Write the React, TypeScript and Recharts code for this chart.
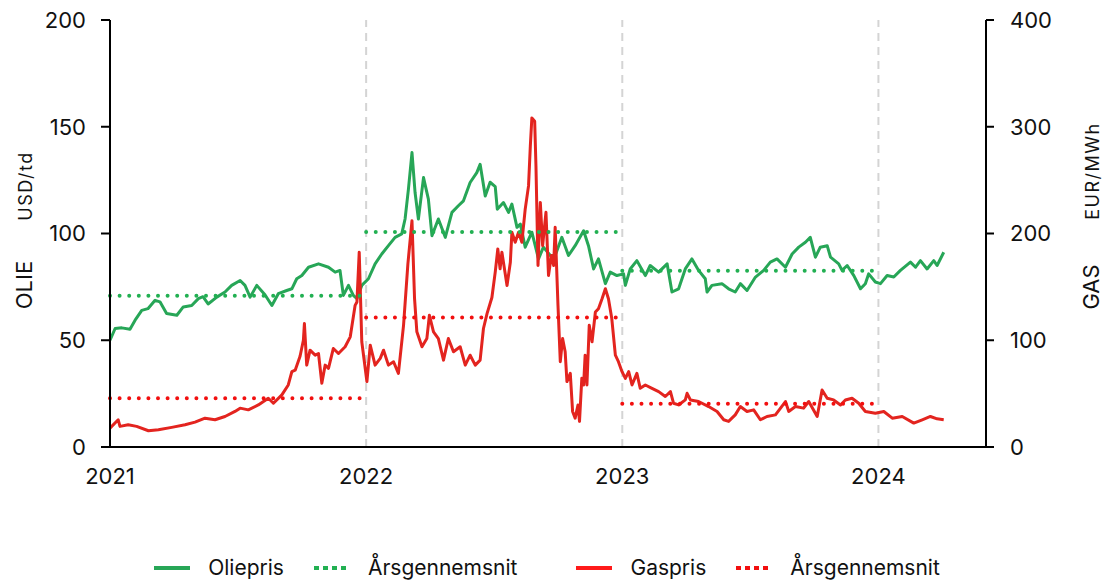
import React from "react";
import {
  LineChart,
  Line,
  XAxis,
  YAxis,
  ReferenceLine,
  Legend,
} from "recharts";

// tid i decimalår
const oilTid = [
  2021.0, 2021.02, 2021.046, 2021.078, 2021.098, 2021.124, 2021.148, 2021.176, 2021.195, 2021.221,
  2021.261, 2021.286, 2021.319, 2021.345, 2021.363, 2021.383, 2021.417, 2021.449, 2021.475, 2021.508,
  2021.527, 2021.547, 2021.573, 2021.605, 2021.632, 2021.657, 2021.69, 2021.71, 2021.729, 2021.749,
  2021.775, 2021.814, 2021.853, 2021.879, 2021.898, 2021.911, 2021.931, 2021.95, 2021.964, 2021.983,
  2022.009, 2022.035, 2022.061, 2022.087, 2022.113, 2022.139, 2022.152, 2022.165, 2022.179, 2022.191,
  2022.204, 2022.224, 2022.243, 2022.257, 2022.282, 2022.309, 2022.335, 2022.36, 2022.38, 2022.406,
  2022.432, 2022.445, 2022.465, 2022.484, 2022.504, 2022.512, 2022.536, 2022.556, 2022.569, 2022.589,
  2022.602, 2022.621, 2022.647, 2022.673, 2022.692, 2022.719, 2022.738, 2022.764, 2022.79, 2022.816,
  2022.849, 2022.868, 2022.888, 2022.907, 2022.934, 2022.953, 2022.979, 2023.005, 2023.012, 2023.031,
  2023.057, 2023.09, 2023.109, 2023.142, 2023.175, 2023.194, 2023.22, 2023.246, 2023.272, 2023.298,
  2023.324, 2023.331, 2023.35, 2023.389, 2023.415, 2023.441, 2023.461, 2023.487, 2023.52, 2023.552,
  2023.578, 2023.604, 2023.637, 2023.663, 2023.689, 2023.715, 2023.734, 2023.754, 2023.773, 2023.8,
  2023.813, 2023.845, 2023.858, 2023.878, 2023.904, 2023.93, 2023.949, 2023.962, 2023.988, 2024.008,
  2024.034, 2024.06, 2024.086, 2024.125, 2024.145, 2024.164, 2024.19, 2024.216, 2024.229, 2024.255,
];
const oilPris = [
  50.0, 55.5, 55.8, 55.2, 59.4, 64.0, 64.8, 68.7, 68.0, 62.5,
  61.7, 65.6, 66.3, 69.5, 70.4, 67.0, 70.2, 72.6, 75.7, 78.0,
  75.7, 70.2, 75.7, 71.3, 66.3, 71.8, 73.3, 74.1, 78.8, 80.3,
  84.2, 85.8, 84.2, 81.9, 82.7, 71.0, 75.7, 71.0, 69.5, 75.7,
  78.8, 85.8, 90.4, 94.3, 98.2, 99.8, 106.8, 120.7, 137.9, 119.2,
  106.8, 126.2, 116.1, 99.0, 106.8, 98.2, 109.9, 113.0, 115.3, 123.9,
  128.5, 132.4, 117.6, 124.0, 122.0, 111.4, 114.5, 109.9, 113.8, 102.9,
  104.4, 93.6, 100.6, 88.1, 93.6, 89.7, 89.7, 98.2, 89.7, 94.3,
  101.3, 94.3, 83.4, 88.1, 76.5, 81.9, 80.3, 81.1, 75.7, 83.4,
  87.3, 80.3, 85.0, 81.9, 85.8, 72.6, 74.1, 83.4, 88.1, 82.7,
  78.8, 72.6, 75.7, 76.5, 74.1, 72.6, 76.5, 73.3, 79.6, 82.7,
  86.6, 88.1, 84.2, 90.4, 93.6, 95.9, 98.2, 88.9, 93.6, 94.3,
  88.9, 85.8, 82.7, 85.0, 80.3, 74.1, 76.5, 81.1, 77.3, 76.5,
  80.3, 79.6, 82.7, 86.6, 84.2, 87.3, 83.4, 87.3, 85.0, 91.2,
];

const gasTid = [
  2021.0, 2021.032, 2021.039, 2021.071, 2021.104, 2021.15, 2021.189, 2021.241, 2021.293, 2021.332,
  2021.371, 2021.41, 2021.449, 2021.488, 2021.508, 2021.54, 2021.579, 2021.618, 2021.638, 2021.671,
  2021.696, 2021.71, 2021.723, 2021.742, 2021.755, 2021.759, 2021.768, 2021.781, 2021.801, 2021.814,
  2021.827, 2021.84, 2021.853, 2021.872, 2021.892, 2021.918, 2021.938, 2021.957, 2021.964, 2021.973,
  2021.983, 2022.003, 2022.016, 2022.035, 2022.055, 2022.068, 2022.087, 2022.107, 2022.126, 2022.146,
  2022.163, 2022.179, 2022.189, 2022.198, 2022.218, 2022.237, 2022.247, 2022.263, 2022.282, 2022.302,
  2022.321, 2022.341, 2022.367, 2022.387, 2022.406, 2022.426, 2022.445, 2022.458, 2022.472, 2022.491,
  2022.504, 2022.514, 2022.523, 2022.53, 2022.55, 2022.563, 2022.569, 2022.582, 2022.595, 2022.608,
  2022.621, 2022.634, 2022.641, 2022.647, 2022.658, 2022.663, 2022.671, 2022.68, 2022.689, 2022.702,
  2022.712, 2022.723, 2022.732, 2022.738, 2022.749, 2022.758, 2022.767, 2022.777, 2022.784, 2022.797,
  2022.806, 2022.816, 2022.827, 2022.833, 2022.842, 2022.849, 2022.855, 2022.862, 2022.871, 2022.882,
  2022.895, 2022.907, 2022.921, 2022.934, 2022.946, 2022.959, 2022.973, 2022.985, 2022.999, 2023.012,
  2023.025, 2023.038, 2023.057, 2023.07, 2023.09, 2023.116, 2023.142, 2023.168, 2023.188, 2023.2,
  2023.22, 2023.246, 2023.253, 2023.266, 2023.298, 2023.337, 2023.37, 2023.396, 2023.415, 2023.441,
  2023.461, 2023.487, 2023.513, 2023.539, 2023.565, 2023.598, 2023.637, 2023.65, 2023.676, 2023.708,
  2023.728, 2023.761, 2023.78, 2023.8, 2023.825, 2023.852, 2023.871, 2023.897, 2023.923, 2023.949,
  2023.988, 2024.021, 2024.054, 2024.093, 2024.138, 2024.171, 2024.203, 2024.229, 2024.255,
];
const gasPris = [
  17.7, 25.5, 19.3, 20.8, 19.3, 15.2, 16.1, 18.4, 20.8, 23.3,
  27.0, 25.5, 28.6, 33.3, 36.4, 34.8, 39.4, 45.7, 41.0, 48.8,
  58.1, 70.6, 72.0, 85.0, 100.0, 115.6, 76.7, 90.7, 86.0, 87.6,
  59.7, 76.7, 73.7, 92.3, 87.6, 93.9, 103.2, 132.7, 135.8, 182.5,
  98.6, 61.3, 95.4, 76.7, 83.0, 90.7, 76.7, 79.9, 69.0, 114.0,
  171.6, 212.0, 138.9, 107.9, 93.9, 101.6, 123.4, 107.9, 101.6, 81.4,
  101.6, 89.2, 93.9, 76.7, 86.0, 76.7, 81.4, 111.0, 125.0, 140.0,
  163.8, 185.5, 166.9, 182.5, 151.3, 173.1, 201.1, 191.8, 201.1, 191.8,
  222.8, 244.6, 281.9, 308.3, 305.2, 263.2, 170.0, 229.1, 188.6, 219.8,
  160.7, 179.3, 170.0, 205.8, 132.7, 79.9, 101.6, 89.2, 61.3, 69.0,
  33.3, 27.0, 39.4, 24.0, 64.3, 58.1, 86.0, 58.1, 114.0, 98.6,
  126.5, 129.6, 138.9, 148.3, 138.9, 120.3, 86.0, 79.9, 70.6, 64.3,
  70.6, 58.1, 69.0, 55.0, 58.1, 55.0, 51.9, 47.3, 51.9, 41.0,
  39.4, 44.1, 50.3, 44.1, 42.6, 37.9, 33.3, 25.5, 24.0, 30.1,
  37.9, 33.3, 34.8, 25.5, 28.6, 30.1, 42.6, 33.3, 37.9, 36.4,
  42.6, 28.6, 53.4, 45.7, 44.1, 39.4, 44.1, 45.7, 41.0, 33.3,
  31.7, 33.3, 27.0, 28.6, 22.4, 25.5, 28.6, 26.4, 25.5,
];

const avgYears = [2021, 2022, 2023];
const oilAvg = [70.9, 100.7, 82.5];
const gasAvg = [45.7, 121.2, 40.4];

const xTicks = [2021, 2022, 2023, 2024];
const oilTicks = [0, 50, 100, 150, 200];
const gasTicks = [0, 100, 200, 300, 400];

const GREEN = "#27a657";
const GREEN_AVG = "#22b052";
const RED = "#e3241f";
const RED_AVG = "#f20f0f";
const FONT = "Inter, 'DejaVu Sans', sans-serif";

const oilData = oilTid.map((t, i) => ({ t, v: oilPris[i] }));
const gasData = gasTid.map((t, i) => ({ t, v: gasPris[i] }));
const avgSegment = (vals: number[]) =>
  avgYears.map((yr, i) => [
    { t: yr, v: vals[i] },
    { t: yr + 1, v: vals[i] },
  ]);

const legendItems = [
  { label: "Oliepris", color: GREEN, dotted: false, gap: 0 },
  { label: "Årsgennemsnit", color: GREEN_AVG, dotted: true, gap: 30 },
  { label: "Gaspris", color: "#ff1a1a", dotted: false, gap: 59 },
  { label: "Årsgennemsnit", color: RED_AVG, dotted: true, gap: 30 },
];

function renderLegend() {
  return (
    <div
      style={{
        display: "flex",
        justifyContent: "center",
        alignItems: "center",
        fontFamily: FONT,
        fontSize: 21,
        color: "#111",
        paddingRight: 10,
      }}
    >
      {legendItems.map((it, i) => (
        <div key={i} style={{ display: "flex", alignItems: "center", marginLeft: it.gap }}>
          <svg width={36} height={10} style={{ marginRight: 18 }}>
            <line
              x1={0}
              x2={36}
              y1={5}
              y2={5}
              stroke={it.color}
              strokeWidth={4}
              strokeDasharray={it.dotted ? "5 4" : undefined}
            />
          </svg>
          <span>{it.label}</span>
        </div>
      ))}
    </div>
  );
}

const axisLineStyle = { stroke: "#000", strokeWidth: 2 };

export default function App() {
  return (
    <div style={{ position: "absolute", left: 0, top: 0, background: "#fff" }}>
      <LineChart
        width={1104}
        height={583}
        margin={{ top: 20, right: 0, left: 0, bottom: 0 }}
      >
        <XAxis
          dataKey="t"
          type="number"
          domain={[2021, 2024.42]}
          ticks={xTicks}
          tickFormatter={(v: number) => String(Math.round(v))}
          axisLine={axisLineStyle}
          tickLine={false}
          tickSize={0}
          tickMargin={21}
          height={106}
          tick={{ fontSize: 22, fill: "#111", fontFamily: FONT }}
          allowDuplicatedCategory={false}
        />
        <YAxis
          yAxisId="left"
          orientation="left"
          width={110}
          domain={[0, 200]}
          ticks={oilTicks}
          axisLine={axisLineStyle}
          tickLine={axisLineStyle}
          tickSize={9}
          tickMargin={15}
          tick={{ fontSize: 22, fill: "#111", fontFamily: FONT }}
          label={{
            content: () => (
              <g fontFamily={FONT} fill="#111">
                <text x={32} y={285} fontSize={22} textAnchor="middle" transform="rotate(-90 32 285)">
                  OLIE
                </text>
                <text
                  x={32}
                  y={186}
                  fontSize={18}
                  letterSpacing={1.5}
                  textAnchor="middle"
                  transform="rotate(-90 32 186)"
                >
                  USD/td
                </text>
              </g>
            ),
          }}
        />
        <YAxis
          yAxisId="right"
          orientation="right"
          width={118}
          domain={[0, 400]}
          ticks={gasTicks}
          axisLine={axisLineStyle}
          tickLine={axisLineStyle}
          tickSize={8}
          tickMargin={16}
          tick={{ fontSize: 22, fill: "#111", fontFamily: FONT }}
          label={{
            content: () => (
              <g fontFamily={FONT} fill="#111">
                <text x={1099} y={287} fontSize={22} textAnchor="middle" transform="rotate(-90 1099 287)">
                  GAS
                </text>
                <text
                  x={1099}
                  y={171}
                  fontSize={18}
                  letterSpacing={1.5}
                  textAnchor="middle"
                  transform="rotate(-90 1099 171)"
                >
                  EUR/MWh
                </text>
              </g>
            ),
          }}
        />
        {xTicks.slice(1).map((yr) => (
          <ReferenceLine
            key={yr}
            x={yr}
            yAxisId="left"
            stroke="#d4d4d4"
            strokeWidth={2}
            strokeDasharray="8 6"
          />
        ))}
        <Legend
          content={renderLegend}
          wrapperStyle={{ position: "absolute", top: 555, left: 0, width: 1104, height: 30 }}
        />
        <Line
          data={oilData}
          dataKey="v"
          yAxisId="left"
          type="linear"
          stroke={GREEN}
          strokeWidth={3}
          dot={false}
          strokeLinejoin="round"
          isAnimationActive={false}
          legendType="none"
        />
        <Line
          data={gasData}
          dataKey="v"
          yAxisId="right"
          type="linear"
          stroke={RED}
          strokeWidth={3}
          dot={false}
          strokeLinejoin="round"
          isAnimationActive={false}
          legendType="none"
        />
        {avgSegment(oilAvg).map((seg, i) => (
          <Line
            key={"oa" + i}
            data={seg}
            dataKey="v"
            yAxisId="left"
            type="linear"
            stroke={GREEN_AVG}
            strokeWidth={4}
            strokeLinecap="round"
            strokeDasharray="0 9.6"
            dot={false}
            isAnimationActive={false}
            legendType="none"
          />
        ))}
        {avgSegment(gasAvg).map((seg, i) => (
          <Line
            key={"ga" + i}
            data={seg}
            dataKey="v"
            yAxisId="right"
            type="linear"
            stroke={RED_AVG}
            strokeWidth={4}
            strokeLinecap="round"
            strokeDasharray="0 9.6"
            dot={false}
            isAnimationActive={false}
            legendType="none"
          />
        ))}
      </LineChart>
    </div>
  );
}
